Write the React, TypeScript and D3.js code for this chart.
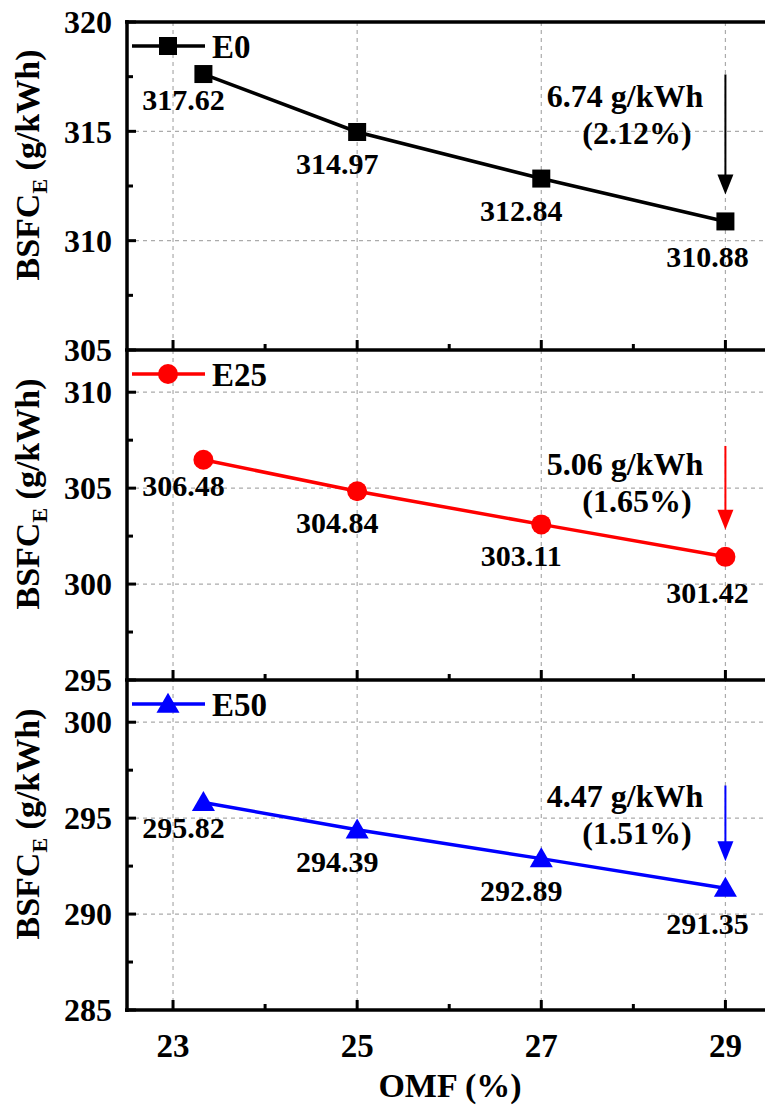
import React from 'react';
import * as d3 from 'd3';

// OMF (%) values of the four operating points
const omf = [23.33, 25, 27, 29];
const e0 = [317.62, 314.97, 312.84, 310.88];
const e25 = [306.48, 304.84, 303.11, 301.42];
const e50 = [295.82, 294.39, 292.89, 291.35];
const seriesNames = ['E0', 'E25', 'E50'];
const reductionText = ['6.74 g/kWh', '5.06 g/kWh', '4.47 g/kWh'];
const reductionPct = ['(2.12%)', '(1.65%)', '(1.51%)'];
const xTicks = [23, 25, 27, 29];
const xMinorTicks = [24, 26, 28];
const yTicks = [
  [305, 310, 315, 320],
  [295, 300, 305, 310],
  [285, 290, 295, 300],
];

const W = 765;
const H = 1107;
const FONT = '"Liberation Serif", "Times New Roman", serif';
const left = 127;
const right = 765;

// panel layout
const panels = [
  { values: e0, color: '#000000', marker: 'square', domain: [305, 320], top: 22, bottom: 350, annY: 316.1, arrowY: 317.6 },
  { values: e25, color: '#ff0000', marker: 'circle', domain: [295, 312.2], top: 350, bottom: 680, annY: 305.7, arrowY: 307.2 },
  { values: e50, color: '#0000ff', marker: 'triangle', domain: [285, 302.2], top: 680, bottom: 1010, annY: 295.6, arrowY: 296.7 },
];

// label offsets (px) for value labels, per point index
const labelOffsets = [
  [-20, 36],
  [-20, 42],
  [-20, 42],
  [-18, 46],
];

const x = d3.scaleLinear().domain([22.5, 29.43]).range([left, right]);

function Marker({ type, cx, cy, color }: { type: string; cx: number; cy: number; color: string }) {
  if (type === 'square') return <rect x={cx - 9} y={cy - 9} width={18} height={18} fill={color} />;
  if (type === 'circle') return <circle cx={cx} cy={cy} r={10} fill={color} />;
  const s = d3.symbol(d3.symbolTriangle, 230)();
  return <path d={s || ''} transform={`translate(${cx},${cy + 2})`} fill={color} />;
}

function Panel({ p, i }: { p: any; i: number }) {
  const y = d3.scaleLinear().domain(p.domain).range([p.bottom, p.top]);
  const line = d3
    .line<number>()
    .x((_, k) => x(omf[k]))
    .y(d => y(d));
  const minor: number[] = [];
  for (let v = p.domain[0] + 2.5; v < p.domain[1]; v += 5) minor.push(v);
  const grid = yTicks[i].filter(v => v > p.domain[0] && v < p.domain[1]);
  const last = p.values[p.values.length - 1];
  const ax = x(omf[omf.length - 1]);
  const arrowTop = y(p.arrowY);
  const arrowTip = y(last) - 27;
  const legendY = p.top + 24;
  return (
    <g>
      {grid.map(v => (
        <line key={v} x1={left} x2={right} y1={y(v)} y2={y(v)} stroke="#ababab" strokeWidth={1.2} strokeDasharray="4,4" />
      ))}
      {/* y ticks */}
      {yTicks[i].map(v => (
        <line key={'t' + v} x1={left} x2={left + 9} y1={y(v)} y2={y(v)} stroke="#000" strokeWidth={3} />
      ))}
      {minor.map(v => (
        <line key={'m' + v} x1={left} x2={left + 6} y1={y(v)} y2={y(v)} stroke="#000" strokeWidth={3} />
      ))}
      {yTicks[i].map(v => (
        <text key={'l' + v} x={112} y={y(v)} dy="0.35em" textAnchor="end" fontSize={32} fontWeight="bold" fontFamily={FONT}>
          {v}
        </text>
      ))}
      {/* x ticks on bottom edge */}
      {xTicks.map(v => (
        <line key={'xt' + v} x1={x(v)} x2={x(v)} y1={p.bottom} y2={p.bottom - 10} stroke="#000" strokeWidth={3} />
      ))}
      {xMinorTicks.map(v => (
        <line key={'xm' + v} x1={x(v)} x2={x(v)} y1={p.bottom} y2={p.bottom - 6} stroke="#000" strokeWidth={3} />
      ))}
      {/* y title */}
      <text
        transform={`translate(39,${(p.top + p.bottom) / 2 - 21}) rotate(-90)`}
        textAnchor="middle"
        fontSize={34}
        fontWeight="bold"
        fontFamily={FONT}
      >
        BSFC<tspan fontSize={22} dy={8}>E</tspan>
        <tspan dy={-8}> (g/kWh)</tspan>
      </text>
      {/* series */}
      <path d={line(p.values) || ''} fill="none" stroke={p.color} strokeWidth={3.5} />
      {p.values.map((v: number, k: number) => (
        <Marker key={k} type={p.marker} cx={x(omf[k])} cy={y(v)} color={p.color} />
      ))}
      {p.values.map((v: number, k: number) => (
        <text
          key={'v' + k}
          x={x(omf[k]) + labelOffsets[k][0]}
          y={y(v) + labelOffsets[k][1]}
          textAnchor="middle"
          fontSize={30}
          fontWeight="bold"
          fontFamily={FONT}
        >
          {v.toFixed(2)}
        </text>
      ))}
      {/* legend */}
      <line x1={132} x2={205} y1={legendY} y2={legendY} stroke={p.color} strokeWidth={3.5} />
      <Marker type={p.marker} cx={168} cy={legendY} color={p.color} />
      <text x={212} y={legendY} dy="0.35em" fontSize={33} fontWeight="bold" fontFamily={FONT}>
        {seriesNames[i]}
      </text>
      {/* reduction annotation */}
      <text x={625} y={y(p.annY)} textAnchor="middle" fontSize={32} fontWeight="bold" fontFamily={FONT}>
        {reductionText[i]}
      </text>
      <text x={637} y={y(p.annY) + 37} textAnchor="middle" fontSize={32} fontWeight="bold" fontFamily={FONT}>
        {reductionPct[i]}
      </text>
      <line x1={ax} x2={ax} y1={arrowTop} y2={arrowTip - 18} stroke={p.color} strokeWidth={2} />
      <path d={`M${ax - 8},${arrowTip - 20} L${ax + 8},${arrowTip - 20} L${ax},${arrowTip} Z`} fill={p.color} />
    </g>
  );
}

export default function App() {
  if (typeof document !== 'undefined') document.body.style.margin = '0';
  return (
    <svg width={W} height={H} style={{ display: 'block', background: '#fff' }}>
      <rect width={W} height={H} fill="#fff" />
      {/* vertical grid */}
      {xTicks.map(v => (
        <line key={v} x1={x(v)} x2={x(v)} y1={22} y2={1010} stroke="#ababab" strokeWidth={1.2} strokeDasharray="4,4" />
      ))}
      {panels.map((p, i) => (
        <Panel key={i} p={p} i={i} />
      ))}
      {/* frame */}
      <line x1={left} x2={left} y1={20} y2={1012} stroke="#000" strokeWidth={3.5} />
      {[22, 350, 680, 1010].map(v => (
        <line key={v} x1={left - 2} x2={right} y1={v} y2={v} stroke="#000" strokeWidth={3.5} />
      ))}
      {xTicks.map(v => (
        <text key={v} x={x(v)} y={1057} textAnchor="middle" fontSize={33} fontWeight="bold" fontFamily={FONT}>
          {v}
        </text>
      ))}
      <text x={450} y={1097} textAnchor="middle" fontSize={34} fontWeight="bold" fontFamily={FONT}>
        OMF (%)
      </text>
    </svg>
  );
}
